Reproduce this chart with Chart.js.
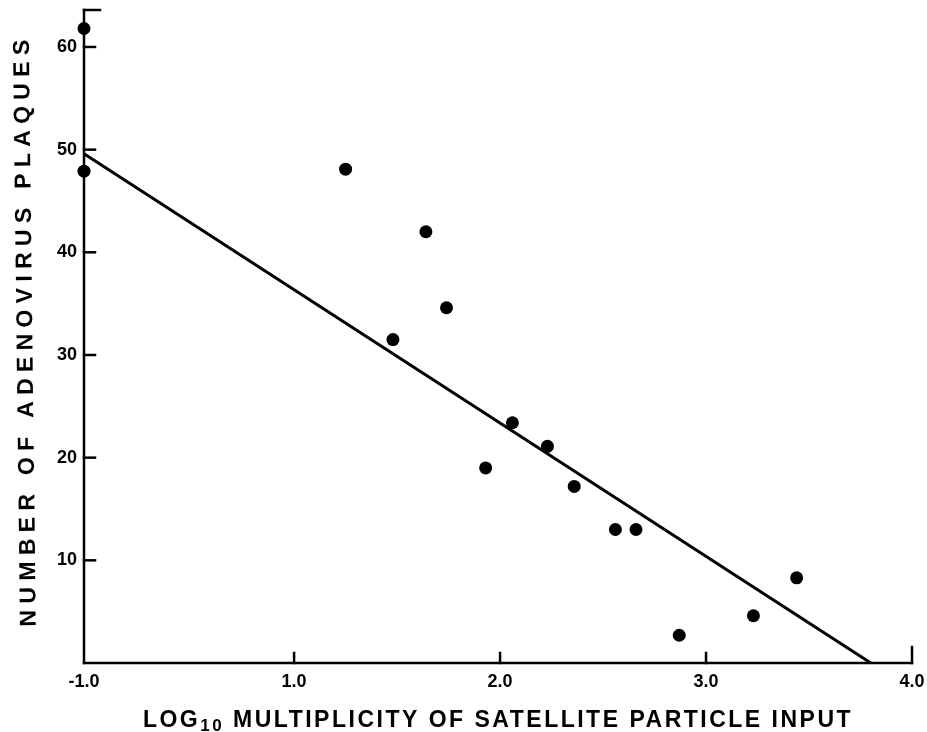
<!DOCTYPE html>
<html>
<head>
<meta charset="utf-8">
<script src="https://cdn.jsdelivr.net/npm/chart.js@4"></script>
<style>
  html, body { margin: 0; padding: 0; background: #fff; }
  #wrap { width: 927px; height: 732px; }
</style>
</head>
<body>
<div id="wrap"><canvas id="chart"></canvas></div>
<script>
// data
const pointX = [-1.0, -1.0, 1.25, 1.48, 1.64, 1.74, 1.93, 2.06, 2.23, 2.36, 2.56, 2.66, 2.87, 3.23, 3.44];
const pointY = [61.8, 47.9, 48.1, 31.5, 42.0, 34.6, 19.0, 23.4, 21.1, 17.2, 13.0, 13.0, 2.7, 4.6, 8.3];

const fitX = [-1.0, 3.80];
const fitY = [49.6, 0];

const xTicks = [-1.0, 1.0, 2.0, 3.0, 4.0];
const xTickLabels = ["-1.0", "1.0", "2.0", "3.0", "4.0"];
const yTicks = [10, 20, 30, 40, 50, 60];
const yTickLabels = ["10", "20", "30", "40", "50", "60"];

const xTitleParts = ["LOG", "10", " MULTIPLICITY OF SATELLITE PARTICLE INPUT"];
const yTitle = "NUMBER OF ADENOVIRUS PLAQUES";

// the left end of the axis is labelled -1.0 but sits about one unit before 1.0
const X_MIN = -0.02;
const X_MAX = 4.0;
const toAxis = v => (v <= -1 ? X_MIN : v);

const FONT = "'Liberation Sans', Arial, sans-serif";

function line(ctx, x1, y1, x2, y2) {
    ctx.beginPath();
    ctx.moveTo(x1, y1);
    ctx.lineTo(x2, y2);
    ctx.stroke();
}

const axisDecor = {
    id: "axisDecor",
    afterDraw(chart) {
        const { ctx, scales } = chart;
        const x = scales.x, y = scales.y;
        ctx.save();
        ctx.strokeStyle = "#000";
        ctx.lineWidth = 2.5;
        ctx.lineCap = "square";
        // axis lines
        line(ctx, x.left, y.top, x.left, y.bottom);
        line(ctx, x.left, y.bottom, x.right, y.bottom);
        // inward ticks
        yTicks.forEach(v => {
            const py = y.getPixelForValue(v);
            line(ctx, x.left, py, x.left + 11, py);
        });
        line(ctx, x.left, y.top, x.left + 16, y.top);
        xTicks.forEach(v => {
            if (v <= -1) return;
            const px = x.getPixelForValue(v);
            line(ctx, px, y.bottom, px, y.bottom - (v === 4 ? 16 : 10));
        });

        // x title with subscript
        ctx.fillStyle = "#000";
        ctx.textBaseline = "alphabetic";
        ctx.textAlign = "left";
        ctx.letterSpacing = "2.5px";
        const big = "bold 23px " + FONT;
        const small = "bold 17px " + FONT;
        ctx.font = big;
        const w0 = ctx.measureText(xTitleParts[0]).width;
        const w2 = ctx.measureText(xTitleParts[2]).width;
        ctx.font = small;
        const w1 = ctx.measureText(xTitleParts[1]).width;
        let tx = 498 - (w0 + w1 + w2) / 2;
        const ty = 727;
        ctx.font = big;
        ctx.fillText(xTitleParts[0], tx, ty);
        tx += w0;
        ctx.font = small;
        ctx.fillText(xTitleParts[1], tx, ty + 4);
        tx += w1;
        ctx.font = big;
        ctx.fillText(xTitleParts[2], tx, ty);

        // y title, rotated (slightly tilted like the original lettering)
        ctx.translate(26, 333);
        ctx.rotate(-Math.PI / 2 - 0.012);
        ctx.textAlign = "center";
        ctx.textBaseline = "middle";
        ctx.letterSpacing = "6.3px";
        ctx.font = "bold 23px " + FONT;
        ctx.fillText(yTitle, 3, 0);
        ctx.restore();
    }
};

const points = pointX.map((v, i) => ({ x: toAxis(v), y: pointY[i] }));
const fit = fitX.map((v, i) => ({ x: toAxis(v), y: fitY[i] }));

new Chart(document.getElementById("chart"), {
    type: "scatter",
    data: {
        datasets: [
            {
                label: "plaques",
                data: points,
                backgroundColor: "#000",
                borderColor: "#000",
                pointRadius: 6.5,
                pointHoverRadius: 6.5,
                borderWidth: 0,
                clip: false
            },
            {
                label: "fit",
                type: "line",
                data: fit,
                borderColor: "#000",
                borderWidth: 3,
                pointRadius: 0,
                fill: false,
                tension: 0,
                clip: false
            }
        ]
    },
    options: {
        responsive: true,
        maintainAspectRatio: false,
        animation: false,
        events: [],
        layout: { padding: { left: 0, right: 15, top: 10, bottom: 0 } },
        plugins: {
            legend: { display: false },
            tooltip: { enabled: false }
        },
        scales: {
            x: {
                type: "linear",
                min: X_MIN,
                max: X_MAX,
                grid: { display: false, drawTicks: false },
                border: { display: false },
                afterBuildTicks: scale => {
                    scale.ticks = xTicks.map(v => ({ value: toAxis(v) }));
                },
                afterFit: scale => {
                    scale.height = 69;
                    scale.paddingLeft = 0;
                    scale.paddingRight = 0;
                },
                ticks: {
                    autoSkip: false,
                    maxRotation: 0,
                    padding: 8,
                    color: "#000",
                    font: { family: FONT, size: 18, weight: "bold" },
                    callback: (value, index) => xTickLabels[index]
                }
            },
            y: {
                type: "linear",
                min: 0,
                max: 63.6,
                grid: { display: false, drawTicks: false },
                border: { display: false },
                afterBuildTicks: scale => {
                    scale.ticks = yTicks.map(v => ({ value: v }));
                },
                afterFit: scale => {
                    scale.width = 84;
                    scale.paddingTop = 0;
                    scale.paddingBottom = 0;
                },
                ticks: {
                    autoSkip: false,
                    padding: 7,
                    color: "#000",
                    font: { family: FONT, size: 18, weight: "bold" },
                    callback: (value, index) => yTickLabels[index]
                }
            }
        }
    },
    plugins: [axisDecor]
});
</script>
</body>
</html>
